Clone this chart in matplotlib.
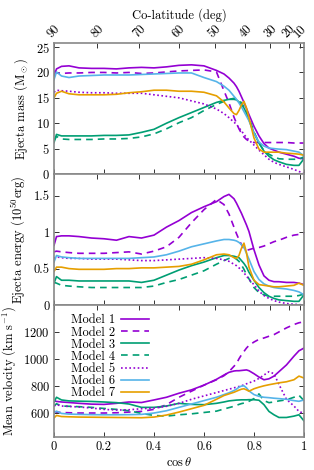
import numpy as np
import matplotlib.pyplot as plt

plt.rcParams['font.family'] = 'serif'
plt.rcParams['font.serif'] = ['cmr10', 'DejaVu Serif']
plt.rcParams['mathtext.fontset'] = 'cm'
plt.rcParams['axes.formatter.use_mathtext'] = True
plt.rcParams['axes.unicode_minus'] = False

# cos(theta) sample points
cos_theta = [0, 0.01, 0.03, 0.06, 0.1, 0.15, 0.2, 0.25, 0.3, 0.35, 0.4, 0.45, 0.5, 0.55,
             0.6, 0.65, 0.68, 0.7, 0.72, 0.73, 0.74, 0.75, 0.76, 0.77, 0.78, 0.8, 0.82,
             0.84, 0.86, 0.88, 0.9, 0.93, 0.96, 0.98, 1.0]

models = ['Model 1', 'Model 2', 'Model 3', 'Model 4', 'Model 5', 'Model 6', 'Model 7']

# ejecta mass (Msun)
mass_m1 = [19.3, 20.7, 21.2, 21.3, 20.9, 20.8, 20.8, 20.7, 20.9, 21.0, 20.9, 21.1, 21.4, 21.5, 21.3, 20.4, 19.7, 18.9, 17.9, 17.2, 16.3, 15.2, 14.1, 12.9, 11.7, 9.4, 7.5, 6.0, 5.1, 4.7, 4.3, 3.9, 3.5, 3.1, 3.0]
mass_m2 = [20.3, 19.9, 19.8, 19.9, 19.9, 20.0, 20.0, 19.9, 20.0, 19.8, 19.9, 20.1, 20.3, 20.4, 20.5, 20.1, 16.4, 14.0, 11.2, 10.0, 8.9, 8.0, 7.3, 6.8, 6.5, 6.2, 6.2, 6.2, 6.2, 6.2, 6.2, 6.2, 6.1, 6.1, 6.1]
mass_m3 = [6.2, 7.8, 7.5, 7.5, 7.5, 7.5, 7.6, 7.6, 7.7, 8.2, 8.8, 10.0, 11.1, 12.1, 13.1, 14.1, 14.5, 14.7, 14.7, 14.6, 14.2, 13.6, 13.0, 12.0, 10.7, 8.1, 6.1, 4.5, 3.5, 2.8, 2.4, 1.9, 1.7, 1.7, 3.0]
mass_m4 = [6.6, 7.4, 6.9, 6.8, 6.8, 6.8, 6.9, 6.9, 7.0, 7.3, 7.9, 8.9, 10.1, 11.1, 12.5, 13.7, 14.3, 14.7, 14.9, 14.8, 14.6, 14.0, 13.2, 12.2, 11.0, 8.3, 6.1, 4.6, 3.9, 3.4, 3.0, 2.9, 2.9, 2.9, 3.4]
mass_m5 = [16.1, 16.5, 16.4, 16.3, 16.1, 16.0, 16.0, 15.9, 15.9, 15.9, 15.6, 15.3, 15.0, 14.4, 13.8, 12.8, 11.9, 11.1, 10.2, 9.8, 9.1, 8.5, 7.8, 7.2, 6.7, 5.7, 4.7, 3.8, 2.9, 2.3, 1.9, 1.4, 0.9, 0.5, 0.1]
mass_m6 = [18.6, 20.1, 19.3, 19.0, 19.3, 19.4, 19.5, 19.5, 19.5, 19.6, 19.7, 19.8, 19.9, 19.9, 19.0, 18.2, 17.3, 16.5, 15.3, 14.7, 14.0, 13.2, 12.3, 11.4, 10.5, 8.0, 6.3, 5.5, 5.1, 5.0, 4.9, 4.8, 4.5, 4.3, 3.6]
mass_m7 = [15.0, 15.9, 16.3, 15.8, 15.6, 15.6, 15.6, 15.7, 16.0, 16.2, 16.5, 16.5, 16.3, 16.3, 16.1, 15.4, 14.2, 13.0, 11.9, 11.7, 12.5, 13.6, 14.3, 13.0, 11.1, 7.1, 4.9, 4.3, 4.3, 4.3, 4.3, 4.1, 4.0, 3.9, 3.7]

# ejecta energy (1e50 erg)
ener_m1 = [0.82, 0.94, 0.95, 0.95, 0.94, 0.92, 0.91, 0.89, 0.94, 0.92, 0.96, 1.07, 1.16, 1.27, 1.35, 1.42, 1.49, 1.52, 1.46, 1.40, 1.33, 1.26, 1.18, 1.10, 1.01, 0.76, 0.55, 0.40, 0.34, 0.32, 0.32, 0.31, 0.31, 0.30, 0.28]
ener_m2 = [0.73, 0.74, 0.73, 0.72, 0.71, 0.71, 0.71, 0.72, 0.73, 0.70, 0.74, 0.80, 0.93, 1.13, 1.31, 1.45, 1.38, 1.25, 1.07, 0.98, 0.90, 0.83, 0.77, 0.75, 0.76, 0.78, 0.79, 0.81, 0.84, 0.87, 0.89, 0.93, 0.96, 0.97, 0.98]
ener_m3 = [0.30, 0.39, 0.34, 0.34, 0.33, 0.33, 0.33, 0.33, 0.33, 0.31, 0.34, 0.41, 0.48, 0.54, 0.59, 0.65, 0.68, 0.68, 0.67, 0.66, 0.65, 0.61, 0.57, 0.52, 0.45, 0.34, 0.24, 0.17, 0.12, 0.09, 0.07, 0.06, 0.05, 0.05, 0.14]
ener_m4 = [0.31, 0.30, 0.27, 0.26, 0.25, 0.24, 0.24, 0.24, 0.24, 0.24, 0.26, 0.31, 0.35, 0.41, 0.47, 0.56, 0.61, 0.64, 0.65, 0.63, 0.60, 0.55, 0.49, 0.42, 0.36, 0.24, 0.17, 0.14, 0.12, 0.12, 0.12, 0.12, 0.12, 0.13, 0.15]
ener_m5 = [0.64, 0.66, 0.65, 0.64, 0.64, 0.63, 0.63, 0.63, 0.62, 0.61, 0.61, 0.62, 0.63, 0.64, 0.65, 0.64, 0.62, 0.60, 0.56, 0.54, 0.51, 0.48, 0.44, 0.40, 0.35, 0.28, 0.19, 0.13, 0.09, 0.06, 0.04, 0.02, 0.01, 0.005, 0.0]
ener_m6 = [0.59, 0.68, 0.66, 0.65, 0.64, 0.64, 0.64, 0.64, 0.64, 0.65, 0.66, 0.69, 0.74, 0.80, 0.84, 0.88, 0.90, 0.90, 0.89, 0.88, 0.86, 0.83, 0.79, 0.71, 0.63, 0.46, 0.35, 0.29, 0.26, 0.24, 0.23, 0.22, 0.20, 0.18, 0.14]
ener_m7 = [0.46, 0.52, 0.52, 0.50, 0.49, 0.49, 0.49, 0.50, 0.50, 0.51, 0.51, 0.52, 0.53, 0.56, 0.62, 0.69, 0.70, 0.69, 0.65, 0.64, 0.68, 0.78, 0.85, 0.72, 0.52, 0.34, 0.28, 0.27, 0.26, 0.25, 0.25, 0.26, 0.27, 0.30, 0.27]

# mean velocity (km/s)
vel_m1 = [690, 684, 680, 676, 670, 664, 662, 670, 680, 676, 695, 715, 745, 770, 805, 848, 880, 900, 910, 912, 912, 914, 916, 918, 912, 890, 865, 845, 852, 872, 905, 955, 1020, 1060, 1080]
vel_m2 = [610, 605, 602, 600, 598, 598, 598, 600, 605, 610, 625, 660, 715, 760, 805, 845, 875, 905, 945, 965, 1000, 1030, 1055, 1080, 1100, 1125, 1145, 1155, 1168, 1180, 1200, 1230, 1255, 1268, 1275]
vel_m3 = [680, 715, 695, 688, 686, 684, 680, 675, 665, 640, 640, 650, 670, 662, 660, 670, 680, 688, 692, 694, 695, 696, 696, 696, 697, 697, 693, 660, 610, 585, 565, 565, 575, 585, 540]
vel_m4 = [650, 667, 650, 648, 645, 640, 632, 625, 615, 595, 580, 575, 585, 592, 602, 612, 628, 638, 648, 655, 662, 668, 672, 676, 685, 705, 740, 690, 675, 680, 688, 696, 715, 730, 690]
vel_m5 = [650, 660, 650, 647, 643, 635, 625, 620, 622, 630, 635, 648, 670, 700, 725, 750, 765, 775, 785, 790, 795, 800, 808, 815, 822, 835, 855, 880, 905, 890, 810, 700, 650, 610, 595]
vel_m6 = [600, 612, 595, 590, 588, 586, 585, 585, 586, 588, 598, 615, 640, 665, 690, 715, 735, 748, 765, 775, 790, 798, 800, 785, 762, 735, 722, 715, 712, 708, 705, 700, 690, 685, 695]
vel_m7 = [562, 580, 572, 570, 568, 567, 566, 565, 564, 563, 568, 583, 605, 630, 655, 700, 728, 740, 752, 760, 768, 775, 778, 770, 760, 778, 790, 800, 808, 815, 822, 830, 845, 872, 858]

colatitude_ticks = [90, 80, 70, 60, 50, 40, 30, 20, 10]

purple = '#9400d3'
green = '#009e73'
blue = '#56b4e9'
orange = '#e69f00'
styles = [
    dict(color=purple, ls='-'),
    dict(color=purple, ls=(0, (4, 3))),
    dict(color=green, ls='-'),
    dict(color=green, ls=(0, (4, 3))),
    dict(color=purple, ls=(0, (1, 1.5))),
    dict(color=blue, ls='-'),
    dict(color=orange, ls='-'),
]

mass = [mass_m1, mass_m2, mass_m3, mass_m4, mass_m5, mass_m6, mass_m7]
ener = [ener_m1, ener_m2, ener_m3, ener_m4, ener_m5, ener_m6, ener_m7]
vel = [vel_m1, vel_m2, vel_m3, vel_m4, vel_m5, vel_m6, vel_m7]

fs = 9

fig = plt.figure(figsize=(3.14, 4.70), dpi=100)
left, width = 0.172, 0.796
ax1 = fig.add_axes([left, 0.6298, width, 0.2787])
ax2 = fig.add_axes([left, 0.3511, width, 0.2787])
ax3 = fig.add_axes([left, 0.0702, width, 0.2809])

panels = [(ax1, mass, r'Ejecta mass (M$_\odot$)', (0, 25.8), [0, 5, 10, 15, 20, 25]),
          (ax2, ener, r'Ejecta energy ($10^{50}$erg)', (0, 1.8), [0, 0.5, 1, 1.5]),
          (ax3, vel, r'Mean velocity (km s$^{-1}$)', (420, 1400), [600, 800, 1000, 1200])]

colat_pos = np.cos(np.radians(colatitude_ticks))

for ax, data, ylabel, ylim, yticks in panels:
    for name, ys, st in zip(models, data, styles):
        ax.plot(cos_theta, ys, lw=1.2, label=name, **st)
    ax.set_xlim(0, 1)
    ax.set_ylim(*ylim)
    ax.set_yticks(yticks)
    ax.set_xticks([0, 0.2, 0.4, 0.6, 0.8, 1.0])
    ax.set_ylabel(ylabel, fontsize=fs, labelpad=4)
    ax.tick_params(direction='in', length=3.5, width=0.7, labelsize=fs,
                   right=True, top=False, color='#333333', pad=3)
    for sp in ax.spines.values():
        sp.set_color('#888888')
        sp.set_linewidth(1.2)
    sec = ax.secondary_xaxis('top')
    sec.set_xticks(colat_pos)
    sec.tick_params(direction='in', length=3.5, width=0.7, color='#333333', pad=2)
    sec.spines['top'].set_visible(False)
    if ax is ax1:
        sec.set_xticklabels([str(c) for c in colatitude_ticks], rotation=45,
                            fontsize=fs, ha='center', va='bottom')
        sec.set_xlabel('Co-latitude (deg)', fontsize=fs, labelpad=3)
    else:
        sec.set_xticklabels([])
    if ax is not ax3:
        ax.set_xticklabels([])

ax2.set_yticklabels(['0', '0.5', '1', '1.5'])
ax3.set_xticklabels(['0', '0.2', '0.4', '0.6', '0.8', '1'])
ax3.set_xlabel(r'$\cos\theta$', fontsize=fs, labelpad=2)

ax3.legend(loc='upper left', bbox_to_anchor=(0.03, 1.0), frameon=False, fontsize=fs,
           markerfirst=False, handlelength=2.2, labelspacing=0.0, borderpad=0.25,
           handletextpad=0.5)

fig.savefig('out.png', dpi=100)
